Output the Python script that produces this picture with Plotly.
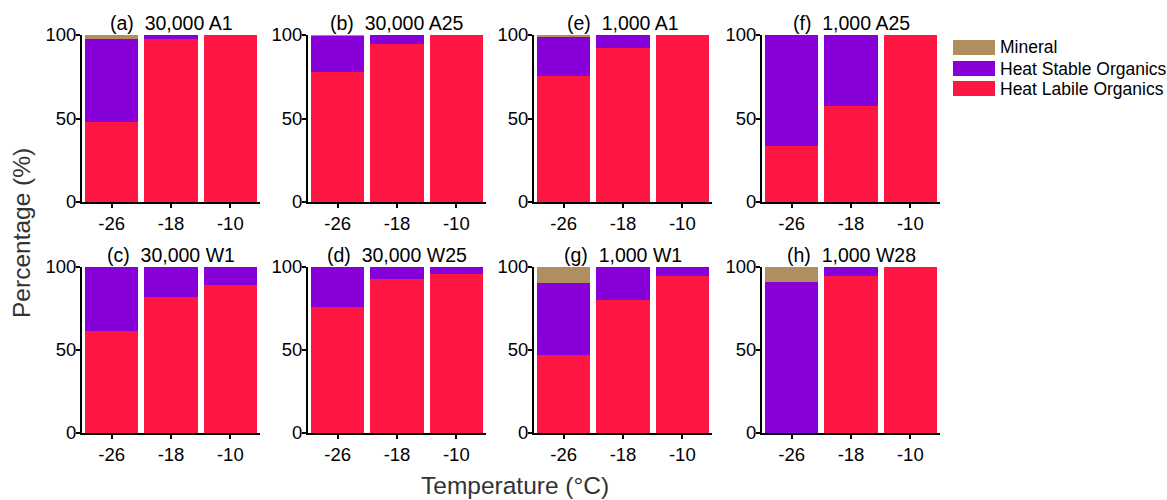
import plotly.graph_objects as go

W, H = 1167, 500

categories = ["-26", "-18", "-10"]
series_names = ["Mineral", "Heat Stable Organics", "Heat Labile Organics"]
series_colors = ["#AF8F60", "#8800D8", "#FF1744"]

panel_titles = ["(a)\u00a0 30,000 A1", "(b)\u00a0 30,000 A25", "(e)\u00a0 1,000 A1", "(f)\u00a0 1,000 A25",
                "(c)\u00a0 30,000 W1", "(d)\u00a0 30,000 W25", "(g)\u00a0 1,000 W1", "(h)\u00a0 1,000 W28"]

labile_a = [47.9, 97.6, 100.0]
stable_a = [49.5, 2.4, 0.0]
mineral_a = [2.6, 0.0, 0.0]

labile_b = [77.8, 94.8, 100.0]
stable_b = [21.6, 5.2, 0.0]
mineral_b = [0.6, 0.0, 0.0]

labile_e = [75.6, 92.4, 100.0]
stable_e = [23.4, 7.6, 0.0]
mineral_e = [1.0, 0.0, 0.0]

labile_f = [33.7, 57.7, 100.0]
stable_f = [66.3, 42.3, 0.0]
mineral_f = [0.0, 0.0, 0.0]

labile_c = [61.2, 81.9, 89.2]
stable_c = [38.8, 18.1, 10.8]
mineral_c = [0.0, 0.0, 0.0]

labile_d = [75.7, 92.6, 95.8]
stable_d = [24.3, 7.4, 4.2]
mineral_d = [0.0, 0.0, 0.0]

labile_g = [46.8, 79.9, 94.8]
stable_g = [43.4, 20.1, 5.2]
mineral_g = [9.8, 0.0, 0.0]

labile_h = [0.0, 94.8, 100.0]
stable_h = [91.0, 5.2, 0.0]
mineral_h = [9.0, 0.0, 0.0]

y_ticks = [0, 50, 100]

panels = [
    (mineral_a, stable_a, labile_a), (mineral_b, stable_b, labile_b),
    (mineral_e, stable_e, labile_e), (mineral_f, stable_f, labile_f),
    (mineral_c, stable_c, labile_c), (mineral_d, stable_d, labile_d),
    (mineral_g, stable_g, labile_g), (mineral_h, stable_h, labile_h),
]

# layout in pixels
col_left = [82, 308, 534, 762]
col_w = 178
row_top = [(35, 202), (267, 433)]

FONT = "Liberation Sans, Arial, sans-serif"

fig = go.Figure()
layout = {}
annotations = []

for i, (mineral, stable, labile) in enumerate(panels):
    r, c = divmod(i, 4)
    n = i + 1
    xa = "x" if n == 1 else f"x{n}"
    ya = "y" if n == 1 else f"y{n}"
    # stacking bottom to top: labile, stable, mineral
    for vals, idx in ((labile, 2), (stable, 1), (mineral, 0)):
        fig.add_trace(go.Bar(
            x=categories, y=vals, name=series_names[idx],
            marker=dict(color=series_colors[idx], line=dict(width=0)),
            xaxis=xa, yaxis=ya, showlegend=False,
        ))
    x0 = col_left[c] / W
    x1 = (col_left[c] + col_w) / W
    yt, yb = row_top[r]
    y0 = 1 - yb / H
    y1 = 1 - yt / H
    layout["xaxis" if n == 1 else f"xaxis{n}"] = dict(
        domain=[x0, x1], anchor=ya, type="category", range=[-0.5, 2.5],
        showline=True, linecolor="black", linewidth=2,
        ticks="outside", ticklen=4, tickwidth=1.5, tickcolor="black",
        tickfont=dict(size=18.5, color="black", family=FONT),
        showgrid=False, zeroline=False, fixedrange=True, automargin=False,
    )
    layout["yaxis" if n == 1 else f"yaxis{n}"] = dict(
        domain=[y0, y1], anchor=xa, range=[0, 100],
        tickvals=y_ticks, ticktext=[str(v) for v in y_ticks],
        showline=True, linecolor="black", linewidth=2,
        ticks="outside", ticklen=4, tickwidth=1.5, tickcolor="black",
        ticklabelstandoff=-4,
        tickfont=dict(size=18.5, color="black", family=FONT),
        showgrid=False, zeroline=False, fixedrange=True, automargin=False,
    )
    annotations.append(dict(
        text=panel_titles[i], xref="paper", yref="paper",
        x=(x0 + x1) / 2, y=y1, xanchor="center", yanchor="bottom", yshift=-1,
        showarrow=False, font=dict(size=19.5, color="black", family=FONT),
    ))

# axis titles
annotations.append(dict(
    text="Temperature (°C)", xref="paper", yref="paper",
    x=515 / W, y=1 - 485 / H, xanchor="center", yanchor="middle",
    showarrow=False, font=dict(size=24.5, color="#333333", family=FONT),
))
annotations.append(dict(
    text="Percentage (%)", xref="paper", yref="paper",
    x=22 / W, y=1 - 233 / H, xanchor="center", yanchor="middle", textangle=-90,
    showarrow=False, font=dict(size=24.5, color="#333333", family=FONT),
))

# legend (patches + labels)
shapes = []
leg_x0, leg_x1 = 953, 995
leg_rows = [40, 61, 81]
for k in range(3):
    top = leg_rows[k]
    shapes.append(dict(
        type="rect", xref="paper", yref="paper",
        x0=leg_x0 / W, x1=leg_x1 / W, y0=1 - (top + 15) / H, y1=1 - top / H,
        fillcolor=series_colors[k], line=dict(width=0),
    ))
    annotations.append(dict(
        text=series_names[k], xref="paper", yref="paper",
        x=998 / W, y=1 - (top + 7.5) / H, xanchor="left", yanchor="middle",
        showarrow=False, font=dict(size=17.5, color="black", family=FONT),
    ))

fig.update_layout(
    width=W, height=H, margin=dict(l=0, r=0, t=0, b=0, autoexpand=False),
    paper_bgcolor="white", plot_bgcolor="white",
    barmode="stack", bargap=0.1, showlegend=False,
    annotations=annotations, shapes=shapes,
    font=dict(family=FONT, color="black"),
    **layout,
)

fig.write_html("out.html")
